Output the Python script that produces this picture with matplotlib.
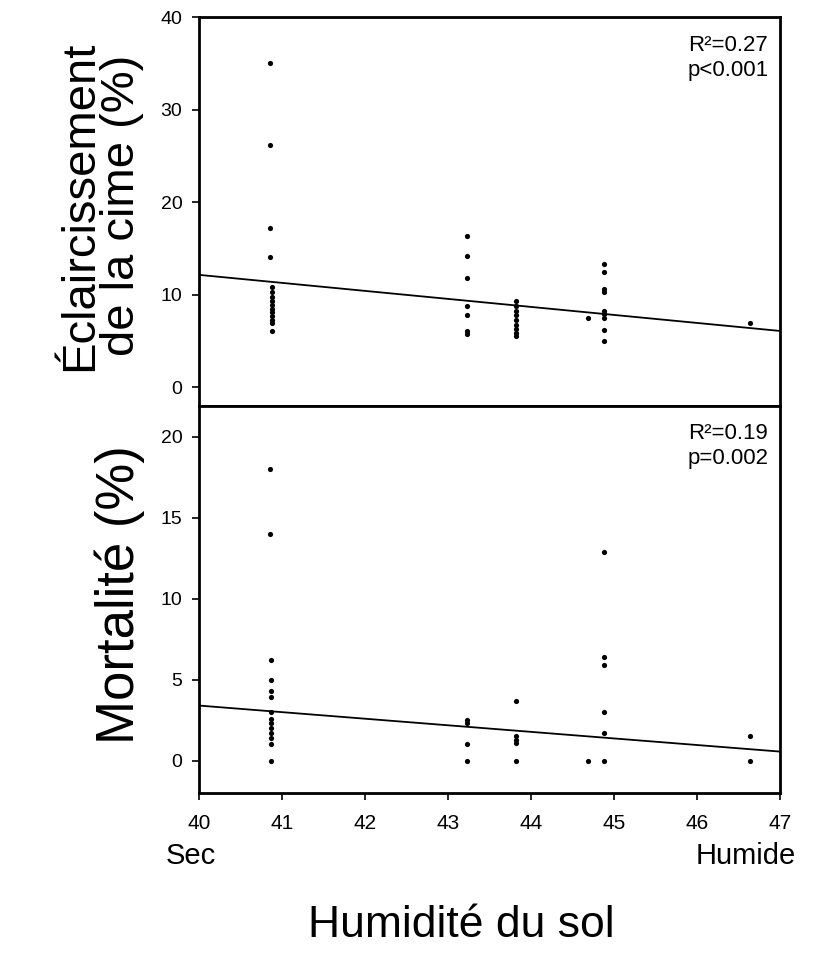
import matplotlib.pyplot as plt

plt.rcParams['font.family'] = ['Liberation Sans', 'DejaVu Sans']

# Éclaircissement de la cime (%) - points by soil humidity
top_x = ([40.85] * 4 + [40.88] * 11 + [43.23] * 7 + [43.82] * 9
         + [44.69] + [44.88] * 9 + [46.64])
top_y = ([35.0, 26.2, 17.2, 14.1]
         + [10.8, 10.3, 9.8, 9.3, 8.9, 8.5, 8.1, 7.7, 7.3, 7.0, 6.1]
         + [16.4, 14.2, 11.8, 8.8, 7.8, 6.1, 5.8]
         + [9.3, 8.8, 8.3, 7.8, 7.3, 6.8, 6.3, 5.9, 5.6]
         + [7.5]
         + [13.3, 12.5, 10.6, 10.3, 8.3, 7.9, 7.5, 6.2, 5.0]
         + [7.0])

# Mortalité (%)
bot_x = ([40.85] * 2 + [40.87] * 12 + [43.23] * 4 + [43.82] * 5
         + [44.69] + [44.88] * 6 + [46.64] * 2)
bot_y = ([18.0, 14.0]
         + [6.2, 5.0, 4.3, 3.9, 3.0, 2.6, 2.3, 2.0, 1.7, 1.4, 1.0, 0.0]
         + [2.5, 2.3, 1.0, 0.0]
         + [3.7, 1.5, 1.3, 1.1, 0.0]
         + [0.0]
         + [12.9, 6.4, 5.9, 3.0, 1.7, 0.0]
         + [1.5, 0.0])

# regression lines (intercept at x=40, slope per unit)
top_fit = (12.16, -0.865)
bot_fit = (3.40, -0.406)

x_ticks = [40, 41, 42, 43, 44, 45, 46, 47]
top_ticks = [0, 10, 20, 30, 40]
bot_ticks = [0, 5, 10, 15, 20]

fig = plt.figure(figsize=(8.2, 9.56), dpi=100)
ax1 = fig.add_axes([0.2427, 0.5753, 0.7085, 0.4069])
ax2 = fig.add_axes([0.2427, 0.1705, 0.7085, 0.4048])


def draw(ax, xs, ys, fit, yticks, ylim):
    ax.scatter(xs, ys, s=14, color='black', zorder=3, linewidths=0)
    b, m = fit
    ax.plot([40, 47], [b, b + m * 7], color='black', lw=1.3)
    ax.set_xlim(40, 47)
    ax.set_ylim(*ylim)
    ax.set_yticks(yticks)
    for s in ax.spines.values():
        s.set_linewidth(2)
    ax.tick_params(axis='y', direction='out', length=5, width=1.2,
                   labelsize=14, pad=7)
    ax.tick_params(axis='x', direction='out', length=5, width=1.2,
                   labelsize=15, pad=10)


draw(ax1, top_x, top_y, top_fit, top_ticks, (-2, 40))
draw(ax2, bot_x, bot_y, bot_fit, bot_ticks, (-2, 21.9))
ax1.set_xticks([])
ax2.set_xticks(x_ticks)

ax1.text(0.98, 0.955, 'R²=0.27\np<0.001', transform=ax1.transAxes,
         ha='right', va='top', fontsize=16, linespacing=1.25)
ax2.text(0.98, 0.955, 'R²=0.19\np=0.002', transform=ax2.transAxes,
         ha='right', va='top', fontsize=16, linespacing=1.25)

fig.text(0.098, 0.785, 'Éclaircissement', rotation=90, ha='center',
         va='center', fontsize=34)
fig.text(0.149, 0.785, 'de la cime (%)', rotation=90, ha='center',
         va='center', fontsize=34)
fig.text(0.146, 0.378, 'Mortalité (%)', rotation=90, ha='center',
         va='center', fontsize=38)

fig.text(0.233, 0.105, 'Sec', ha='center', va='center', fontsize=21)
fig.text(0.909, 0.105, 'Humide', ha='center', va='center', fontsize=21)
fig.text(0.563, 0.032, 'Humidité du sol', ha='center', va='center',
         fontsize=32)

fig.savefig('out.png', dpi=100)
